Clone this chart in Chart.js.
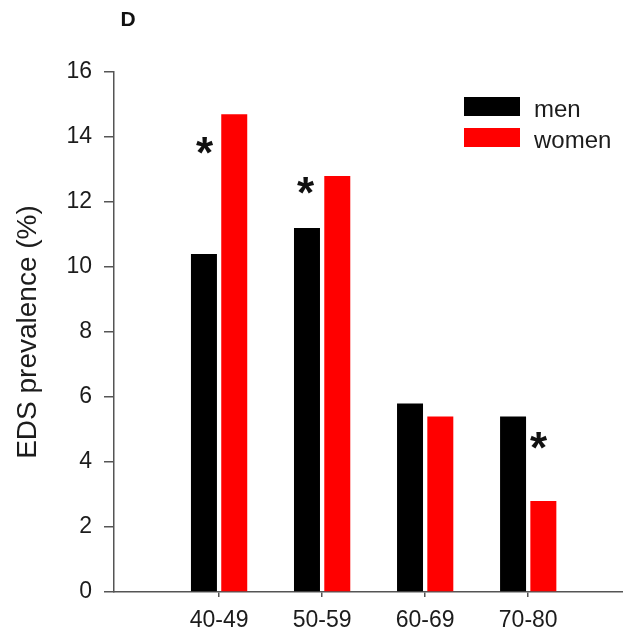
<!DOCTYPE html>
<html>
<head>
<meta charset="utf-8">
<script src="https://cdn.jsdelivr.net/npm/chart.js@4/dist/chart.umd.min.js"></script>
<style>
  html, body { margin: 0; padding: 0; background: #fff; }
  #wrap { width: 623px; height: 634px; }
</style>
</head>
<body>
<div id="wrap"><canvas id="edsChart"></canvas></div>
<script>
// EDS prevalence by age group and sex (%)
var ageGroups = ['40-49', '50-59', '60-69', '70-80'];
var menPrev = [10.4, 11.2, 5.8, 5.4];
var womenPrev = [14.7, 12.8, 5.4, 2.8];
var yTicks = [0, 2, 4, 6, 8, 10, 12, 14, 16];
var seriesNames = ['men', 'women'];

// significance markers: group, horizontal shift (in group units), height (%)
var sigStars = [
  { group: '40-49', dx: -0.14, y: 13.75 },
  { group: '50-59', dx: -0.16, y: 12.5 },
  { group: '70-80', dx: 0.10, y: 4.65 }
];

var FONT = '"Liberation Sans", Arial, Helvetica, sans-serif';
var TEXT = '#1c1c1c';
var AXIS = '#555';

function toPoints(arr) {
  return arr.map(function(v, i) { return { x: i + 1, y: v }; });
}

// panel letter, stars and the in-plot legend
var extras = {
  id: 'extras',
  afterDraw: function(chart) {
    var ctx = chart.ctx;
    var xs = chart.scales.x, ys = chart.scales.y;
    ctx.save();
    ctx.fillStyle = '#111';
    ctx.font = 'bold 21px ' + FONT;
    ctx.textAlign = 'center';
    ctx.textBaseline = 'middle';
    ctx.fillText('D', 128, 20);

    ctx.font = 'bold 44px ' + FONT;
    ctx.textBaseline = 'alphabetic';
    sigStars.forEach(function(s) {
      var px = xs.getPixelForValue(ageGroups.indexOf(s.group) + 1 + s.dx);
      var py = ys.getPixelForValue(s.y);
      var m = ctx.measureText('*');
      var off = (m.actualBoundingBoxAscent - m.actualBoundingBoxDescent) / 2;
      ctx.fillText('*', px, py + off);
    });

    // legend
    var lx = 464, ly = 97, bw = 56, bh = 19, gap = 31;
    ctx.font = '24px ' + FONT;
    ctx.textAlign = 'left';
    chart.data.datasets.forEach(function(ds, i) {
      var top = ly + i * gap;
      ctx.fillStyle = ds.backgroundColor;
      ctx.fillRect(lx, top, bw, bh);
      ctx.fillStyle = TEXT;
      ctx.fillText(ds.label, lx + bw + 14, top + bh + 1);
    });
    ctx.restore();
  }
};

new Chart(document.getElementById('edsChart').getContext('2d'), {
  type: 'bar',
  data: {
    datasets: [
      { label: seriesNames[0], data: toPoints(menPrev), backgroundColor: '#000000' },
      { label: seriesNames[1], data: toPoints(womenPrev), backgroundColor: '#ff0000' }
    ]
  },
  options: {
    responsive: true,
    maintainAspectRatio: false,
    animation: false,
    categoryPercentage: 0.588,
    barPercentage: 0.858,
    layout: { padding: { top: 72, right: 0, bottom: 0, left: 0 } },
    plugins: {
      legend: { display: false },
      tooltip: { enabled: false }
    },
    scales: {
      x: {
        type: 'linear',
        min: -0.02,
        max: 4.92,
        offset: false,
        bounds: 'data',
        afterBuildTicks: function(s) {
          s.ticks = ageGroups.map(function(_, i) { return { value: i + 1 }; });
        },
        afterFit: function(s) {
          s.height = 42;
          s.paddingLeft = 0;
          s.paddingRight = 0;
        },
        ticks: {
          autoSkip: false,
          maxRotation: 0,
          color: TEXT,
          padding: 10,
          font: { family: FONT, size: 23, lineHeight: 1.15 },
          callback: function(v) { return ageGroups[v - 1]; }
        },
        grid: { drawOnChartArea: false, offset: false, tickLength: 5, color: AXIS, lineWidth: 1.5 },
        border: { color: AXIS, width: 1.5 }
      },
      y: {
        min: 0,
        max: 16,
        afterBuildTicks: function(s) {
          s.ticks = yTicks.map(function(v) { return { value: v }; });
        },
        afterFit: function(s) {
          s.width = 114;
          s.paddingTop = 0;
          s.paddingBottom = 0;
        },
        ticks: {
          color: TEXT,
          padding: 12,
          font: { family: FONT, size: 23 }
        },
        grid: { drawOnChartArea: false, tickLength: 10, color: AXIS, lineWidth: 1.5 },
        border: { color: AXIS, width: 1.5 },
        title: {
          display: true,
          text: 'EDS prevalence (%)',
          color: TEXT,
          font: { family: FONT, size: 28 },
          padding: { top: 11, bottom: 0 }
        }
      }
    }
  },
  plugins: [extras]
});
</script>
</body>
</html>
